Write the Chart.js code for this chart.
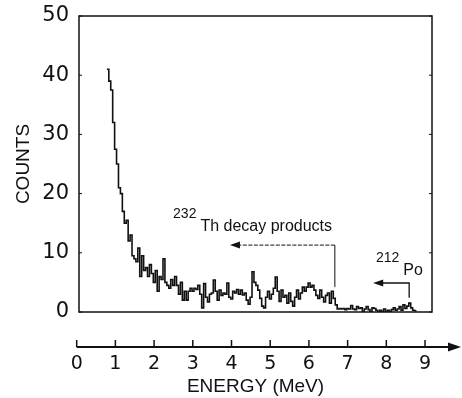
<!DOCTYPE html>
<html>
<head>
<meta charset="utf-8">
<script src="https://cdn.jsdelivr.net/npm/chart.js@4.4.1/dist/chart.umd.min.js"></script>
<style>
  body { margin: 0; background: #fff; }
</style>
</head>
<body>
<canvas id="myChart" width="462" height="398"></canvas>
<script>
// counts per 0.05 MeV channel, first channel starts at 0.78 MeV
const binStart = 0.78;
const binWidth = 0.05;
const counts = [
    41, 39, 37.5, 32, 27.5, 25, 21, 20, 17, 15,
    15.5, 12, 13, 9.5, 9, 8.5, 10.8, 6, 9.5, 7,
    7.5, 6, 8, 6.5, 5, 7, 3.5, 6, 5.5, 9,
    5, 4.5, 4, 5.5, 4.5, 6, 4.5, 3, 5, 2,
    3.5, 2, 3.5, 4, 3.5, 4, 3.8, 4.5, 3, 0.7,
    4.8, 2.5, 1.7, 3, 3.2, 5.4, 3.5, 2, 3.7, 2.8,
    3.2, 3, 4.9, 2.5, 2.2, 3.5, 3.2, 3.8, 3, 3.7,
    2.9, 3.2, 2, 1.3, 2.5, 6.8, 5, 4.5, 3.7, 2.3,
    1, 0.7, 2.5, 3.5, 2.2, 3, 4, 5.9, 3.5, 1.8,
    3.7, 2.5, 2.8, 1.5, 3.2, 1.8, 1, 2.5, 3.7, 2.2,
    3.2, 4.2, 3.5, 4.2, 4.9, 4.2, 4.5, 3.7, 2.8, 2.3,
    3.7, 2.5, 1.7, 2.8, 3.2, 1.5, 3.5, 2.3, 1.2, 0.5,
    0.6, 0.5, 0.6, 0.4, 0.6, 0.5, 1.1, 0.5, 0.4, 0.9,
    0.6, 0.7, 0, 0.5, 0.9, 0.4, 0, 0.7, 0.6, 0.3,
    0, 0.3, 0, 0.5, 0, 0.3, 0, 0.4, 0.7, 0.3,
    0.5, 0.9, 0.3, 1.2, 0.6, 1.0, 1.5, 0.7, 0.3, 0.2
];
const xTicks = [0, 1, 2, 3, 4, 5, 6, 7, 8, 9];
const yTicks = [0, 10, 20, 30, 40, 50];

// annotations, in MeV / counts
const thLabel = { iso: '232', name: 'Th decay products', e: 2.49, c: 13.7 };
const thArrow = { from: 6.67, to: 3.96, c: 11.3, drop: 4.2 };
const poLabel = { iso: '212', name: 'Po', e: 7.73, c: 6.25 };
const poArrow = { from: 8.59, to: 7.66, c: 4.9, drop: 2.4 };

const points = counts.map((c, i) => ({ x: binStart + i * binWidth, y: c }));
points.push({ x: binStart + counts.length * binWidth, y: counts[counts.length - 1] });

function arrowHead(ctx, x, y) {
    ctx.beginPath();
    ctx.moveTo(x, y);
    ctx.lineTo(x + 10, y - 3.5);
    ctx.lineTo(x + 10, y + 3.5);
    ctx.closePath();
    ctx.fill();
}

function isoLabel(ctx, x, y, lbl) {
    ctx.font = '14px "Liberation Sans"';
    ctx.fillText(lbl.iso, x, y - 13);
    const w = ctx.measureText(lbl.iso).width;
    ctx.font = '16px "Liberation Sans"';
    ctx.fillText(lbl.name, x + w + 4, y);
}

const decor = {
    id: 'decor',
    afterDraw(chart) {
        const { ctx, chartArea: a, scales: { x, y } } = chart;
        ctx.save();
        ctx.strokeStyle = '#111';
        ctx.fillStyle = '#111';

        // box round the spectrum
        ctx.lineWidth = 1.5;
        ctx.strokeRect(a.left, a.top, a.right - a.left, a.bottom - a.top);
        ctx.lineWidth = 1;
        yTicks.forEach(v => {
            const py = y.getPixelForValue(v);
            ctx.beginPath();
            ctx.moveTo(a.left, py); ctx.lineTo(a.left + 3, py);
            ctx.moveTo(a.right, py); ctx.lineTo(a.right - 3, py);
            ctx.stroke();
        });

        // energy axis drawn apart, below the box
        const ay = a.bottom + 35;
        ctx.lineWidth = 2;
        ctx.beginPath();
        ctx.moveTo(x.getPixelForValue(0), ay);
        ctx.lineTo(chart.width - 12, ay);
        ctx.stroke();
        ctx.beginPath();
        ctx.moveTo(chart.width - 1, ay);
        ctx.lineTo(chart.width - 14, ay - 4.5);
        ctx.lineTo(chart.width - 14, ay + 4.5);
        ctx.closePath();
        ctx.fill();
        ctx.lineWidth = 1.5;
        xTicks.forEach(v => {
            const px = x.getPixelForValue(v);
            ctx.beginPath();
            ctx.moveTo(px, ay); ctx.lineTo(px, ay - 7);
            ctx.stroke();
        });

        // 232Th arrow
        ctx.lineWidth = 1;
        ctx.beginPath();
        ctx.moveTo(x.getPixelForValue(thArrow.from), y.getPixelForValue(thArrow.drop));
        ctx.lineTo(x.getPixelForValue(thArrow.from), y.getPixelForValue(thArrow.c));
        ctx.stroke();
        ctx.setLineDash([4, 1.5]);
        ctx.beginPath();
        ctx.moveTo(x.getPixelForValue(thArrow.from), y.getPixelForValue(thArrow.c));
        ctx.lineTo(x.getPixelForValue(thArrow.to) + 8, y.getPixelForValue(thArrow.c));
        ctx.stroke();
        ctx.setLineDash([]);
        arrowHead(ctx, x.getPixelForValue(thArrow.to), y.getPixelForValue(thArrow.c));

        // 212Po arrow
        ctx.lineWidth = 1.3;
        ctx.beginPath();
        ctx.moveTo(x.getPixelForValue(poArrow.from), y.getPixelForValue(poArrow.drop));
        ctx.lineTo(x.getPixelForValue(poArrow.from), y.getPixelForValue(poArrow.c));
        ctx.lineTo(x.getPixelForValue(poArrow.to) + 8, y.getPixelForValue(poArrow.c));
        ctx.stroke();
        arrowHead(ctx, x.getPixelForValue(poArrow.to), y.getPixelForValue(poArrow.c));

        ctx.textBaseline = 'alphabetic';
        ctx.textAlign = 'left';
        isoLabel(ctx, x.getPixelForValue(thLabel.e), y.getPixelForValue(thLabel.c), thLabel);
        isoLabel(ctx, x.getPixelForValue(poLabel.e), y.getPixelForValue(poLabel.c), poLabel);
        ctx.restore();
    }
};

const config = {
    type: 'line',
    data: {
        datasets: [{
            data: points,
            stepped: true,
            borderColor: '#111',
            borderWidth: 1.6,
            pointRadius: 0,
            fill: false
        }]
    },
    options: {
        responsive: false,
        animation: false,
        layout: { padding: { top: 16, right: 30, left: 0, bottom: 0 } },
        plugins: {
            legend: { display: false },
            tooltip: { enabled: false }
        },
        scales: {
            x: {
                type: 'linear',
                min: 0.06,
                max: 9.18,
                afterBuildTicks: s => { s.ticks = xTicks.map(v => ({ value: v })); },
                afterFit: s => {
                    s.height = 86;
                    s.paddingLeft = 0;
                    s.paddingRight = 0;
                },
                grid: { display: false, drawTicks: false },
                border: { display: false },
                ticks: {
                    padding: 41,
                    color: '#111',
                    font: { family: 'DejaVu Sans', size: 19 }
                },
                title: {
                    display: true,
                    text: 'ENERGY (MeV)',
                    color: '#111',
                    padding: { top: 0, bottom: 0 },
                    font: { family: 'Liberation Sans', size: 19 }
                }
            },
            y: {
                min: 0,
                max: 50,
                afterBuildTicks: s => { s.ticks = yTicks.map(v => ({ value: v })); },
                afterFit: s => {
                    s.width = 79;
                    s.paddingTop = 0;
                    s.paddingBottom = 0;
                },
                grid: { display: false, drawTicks: false },
                border: { display: false },
                ticks: {
                    padding: 10,
                    color: '#111',
                    font: { family: 'DejaVu Sans', size: 21 }
                },
                title: {
                    display: true,
                    text: 'COUNTS',
                    color: '#111',
                    padding: { top: 12, bottom: 0 },
                    font: { family: 'Liberation Sans', size: 19 }
                }
            }
        }
    },
    plugins: [decor]
};

const myChart = new Chart(document.getElementById('myChart'), config);
</script>
</body>
</html>
